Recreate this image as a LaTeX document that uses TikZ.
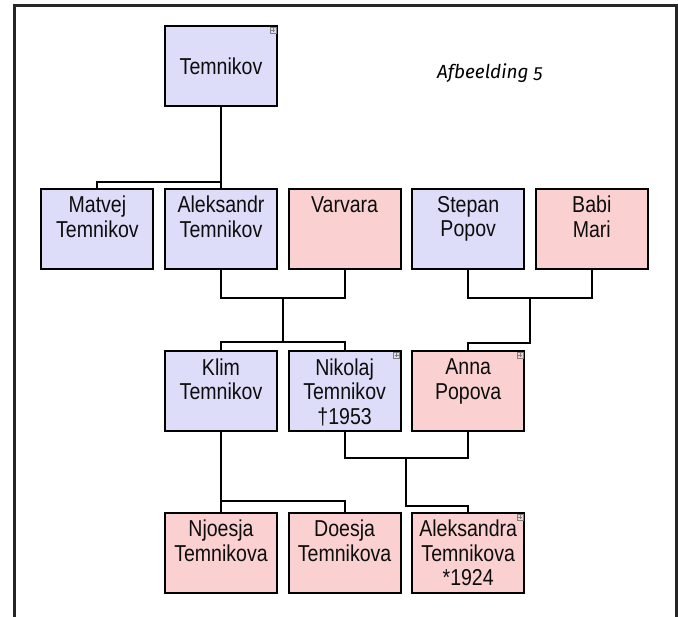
\documentclass[tikz,border=0pt]{standalone}
\usepackage{fontspec}
\setmainfont[FakeStretch=0.85]{Liberation Sans}
\newfontfamily\capfont[Numbers=OldStyle]{Fira Sans}
\usetikzlibrary{chains}
\definecolor{manfill}{RGB}{221,221,250}
\definecolor{womanfill}{RGB}{250,208,208}
\newcommand\namefont{\fontsize{23}{24.5}\selectfont}

\begin{document}
\begin{tikzpicture}[x=1pt,y=-1pt,
    person/.style={draw,line width=2pt,minimum width=112pt,minimum height=80pt,inner sep=0pt},
    man/.style={person,fill=manfill},
    woman/.style={person,fill=womanfill},
    nametext/.style={font=\namefont,text=black!95,align=center,anchor=north,yshift=-8pt,inner sep=0pt},
    link/.style={line width=2pt},
  ]
  \useasboundingbox (0,0) rectangle (678,617);
  \draw[line width=3pt,black!85] (14,617) -- (14,6) -- (676,6) -- (676,617);

  \node[man,font=\namefont,text=black!95] (temnikov) at (221,66.5) {Temnikov};
  \node[font=\capfont\itshape\fontsize{19}{22}\selectfont] (caption) at (490,73) {Afbeelding 5};

  \begin{scope}[start chain=going right,node distance=9.6pt]
    \node[man,on chain,label={[nametext]north:Matvej\\Temnikov}] (matvej) at (97.4,229) {};
    \node[man,on chain,label={[nametext]north:Aleksandr\\Temnikov}] (aleksandr) {};
    \node[woman,on chain,label={[nametext]north:Varvara}] (varvara) {};
    \node[man,on chain,label={[nametext]north:Stepan\\Popov}] (stepan) {};
    \node[woman,on chain,label={[nametext]north:Babi\\Mari}] (babi) {};
  \end{scope}
  \begin{scope}[start chain=going right,node distance=9.6pt]
    \node[man,on chain,label={[nametext]north:Klim\\Temnikov}] (klim) at (221,391.5) {};
    \node[man,on chain,label={[nametext]north:Nikolaj\\Temnikov\\\textdagger1953}] (nikolaj) {};
    \node[woman,on chain,label={[nametext]north:Anna\\Popova}] (anna) {};
  \end{scope}
  \begin{scope}[start chain=going right,node distance=9.6pt]
    \node[woman,on chain,label={[nametext]north:Njoesja\\Temnikova}] (njoesja) at (221,553) {};
    \node[woman,on chain,label={[nametext]north:Doesja\\Temnikova}] (doesja) {};
    \node[woman,on chain,label={[nametext]north:Aleksandra\\Temnikova\\*1924}] (aleksandra) {};
  \end{scope}

  \foreach \n in {temnikov,nikolaj,anna,aleksandra}{
    \draw[gray,line width=0.6pt] ([xshift=-8pt,yshift=-2pt]\n.north east) rectangle ([xshift=-2pt,yshift=-8pt]\n.north east);
    \draw[gray,line width=0.5pt] ([xshift=-5pt,yshift=-3pt]\n.north east) -- ([xshift=-5pt,yshift=-7pt]\n.north east)
      ([xshift=-7pt,yshift=-5pt]\n.north east) -- ([xshift=-3pt,yshift=-5pt]\n.north east);
  }

  \draw[link] (temnikov.south) -- (aleksandr.north);
  \draw[link] (matvej.north) -- ++(0,-6) -| (temnikov.south);

  \draw[link] (aleksandr.south) -- ++(0,28) -| coordinate[pos=.25] (av) (varvara.south);
  \draw[link] (klim.north) -- ++(0,-8) coordinate (kn) -| (nikolaj.north);
  \draw[link] (av) -- (av |- kn);

  \draw[link] (stepan.south) -- ++(0,28) -| coordinate[pos=.25] (sb) (babi.south);
  \draw[link] (anna.north) -- ++(0,-7) -| (sb);

  \draw[link] (nikolaj.south) -- ++(0,26) -| coordinate[pos=.25] (na) (anna.south);
  \draw[link] (aleksandra.north) -- ++(0,-6) -| (na);

  \draw[link] (klim.south) -- (njoesja.north);
  \draw[link] (doesja.north) -- ++(0,-11) -| (klim.south);
\end{tikzpicture}
\end{document}
